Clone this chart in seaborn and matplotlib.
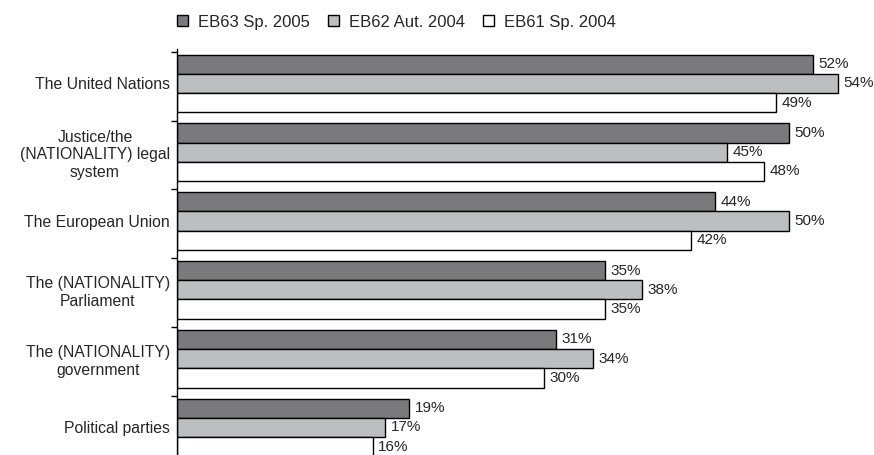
import pandas as pd
import matplotlib.pyplot as plt
import seaborn as sns

# Trust in institutions, three survey waves
categories = [
    "The United Nations",
    "Justice/the\n(NATIONALITY) legal\nsystem",
    "The European Union",
    "The (NATIONALITY)\nParliament",
    "The (NATIONALITY)\ngovernment",
    "Political parties",
]
waves = ["EB63 Sp. 2005", "EB62 Aut. 2004", "EB61 Sp. 2004"]
eb63 = [52, 50, 44, 35, 31, 19]
eb62 = [54, 45, 50, 38, 34, 17]
eb61 = [49, 48, 42, 35, 30, 16]

rows = []
for wave, vals in zip(waves, [eb63, eb62, eb61]):
    for cat, v in zip(categories, vals):
        rows.append({"institution": cat, "wave": wave, "value": v})
data = pd.DataFrame(rows)

sns.set_style("white")
plt.rcParams["font.family"] = ["Liberation Sans", "DejaVu Sans"]
plt.rcParams["font.size"] = 11.3

fig = plt.figure(figsize=(8.74, 4.55), dpi=100)
ax = fig.add_axes([177 / 874, 0, 685 / 874, 406 / 455])

palette = {"EB63 Sp. 2005": "#7a7a7d", "EB62 Aut. 2004": "#bdbec1", "EB61 Sp. 2004": "white"}
sns.barplot(data=data, y="institution", x="value", hue="wave", palette=palette,
            orient="h", width=0.84, gap=0, edgecolor="black", linewidth=1,
            saturation=1, ax=ax)

for c in ax.containers:
    ax.bar_label(c, fmt="{:.0f}%", padding=4, fontsize=11, clip_on=False)

ax.set_xlim(0, 56)
ax.set_ylim(5.4, -0.5)
ax.set_xlabel("")
ax.set_ylabel("")
ax.set_xticks([])
for side in ["top", "right", "bottom"]:
    ax.spines[side].set_visible(False)
ax.spines["left"].set_color("black")
ax.spines["left"].set_linewidth(1)

ax.set_yticks(range(len(categories)))
ax.set_yticklabels(categories, multialignment="center", fontsize=11.3)
ax.tick_params(axis="y", which="major", length=0, pad=5)
ax.set_yticks([i - 0.46 for i in range(len(categories))], minor=True)
ax.tick_params(axis="y", which="minor", length=4, width=1, color="black", left=True)

sns.move_legend(ax, "center left", bbox_to_anchor=(-0.012, 1.0665), ncol=3, frameon=False,
                title=None, borderpad=0, handlelength=0.68, handleheight=0.68,
                handletextpad=0.6, columnspacing=1.05, fontsize=12)

fig.savefig("out.png", dpi=100)
